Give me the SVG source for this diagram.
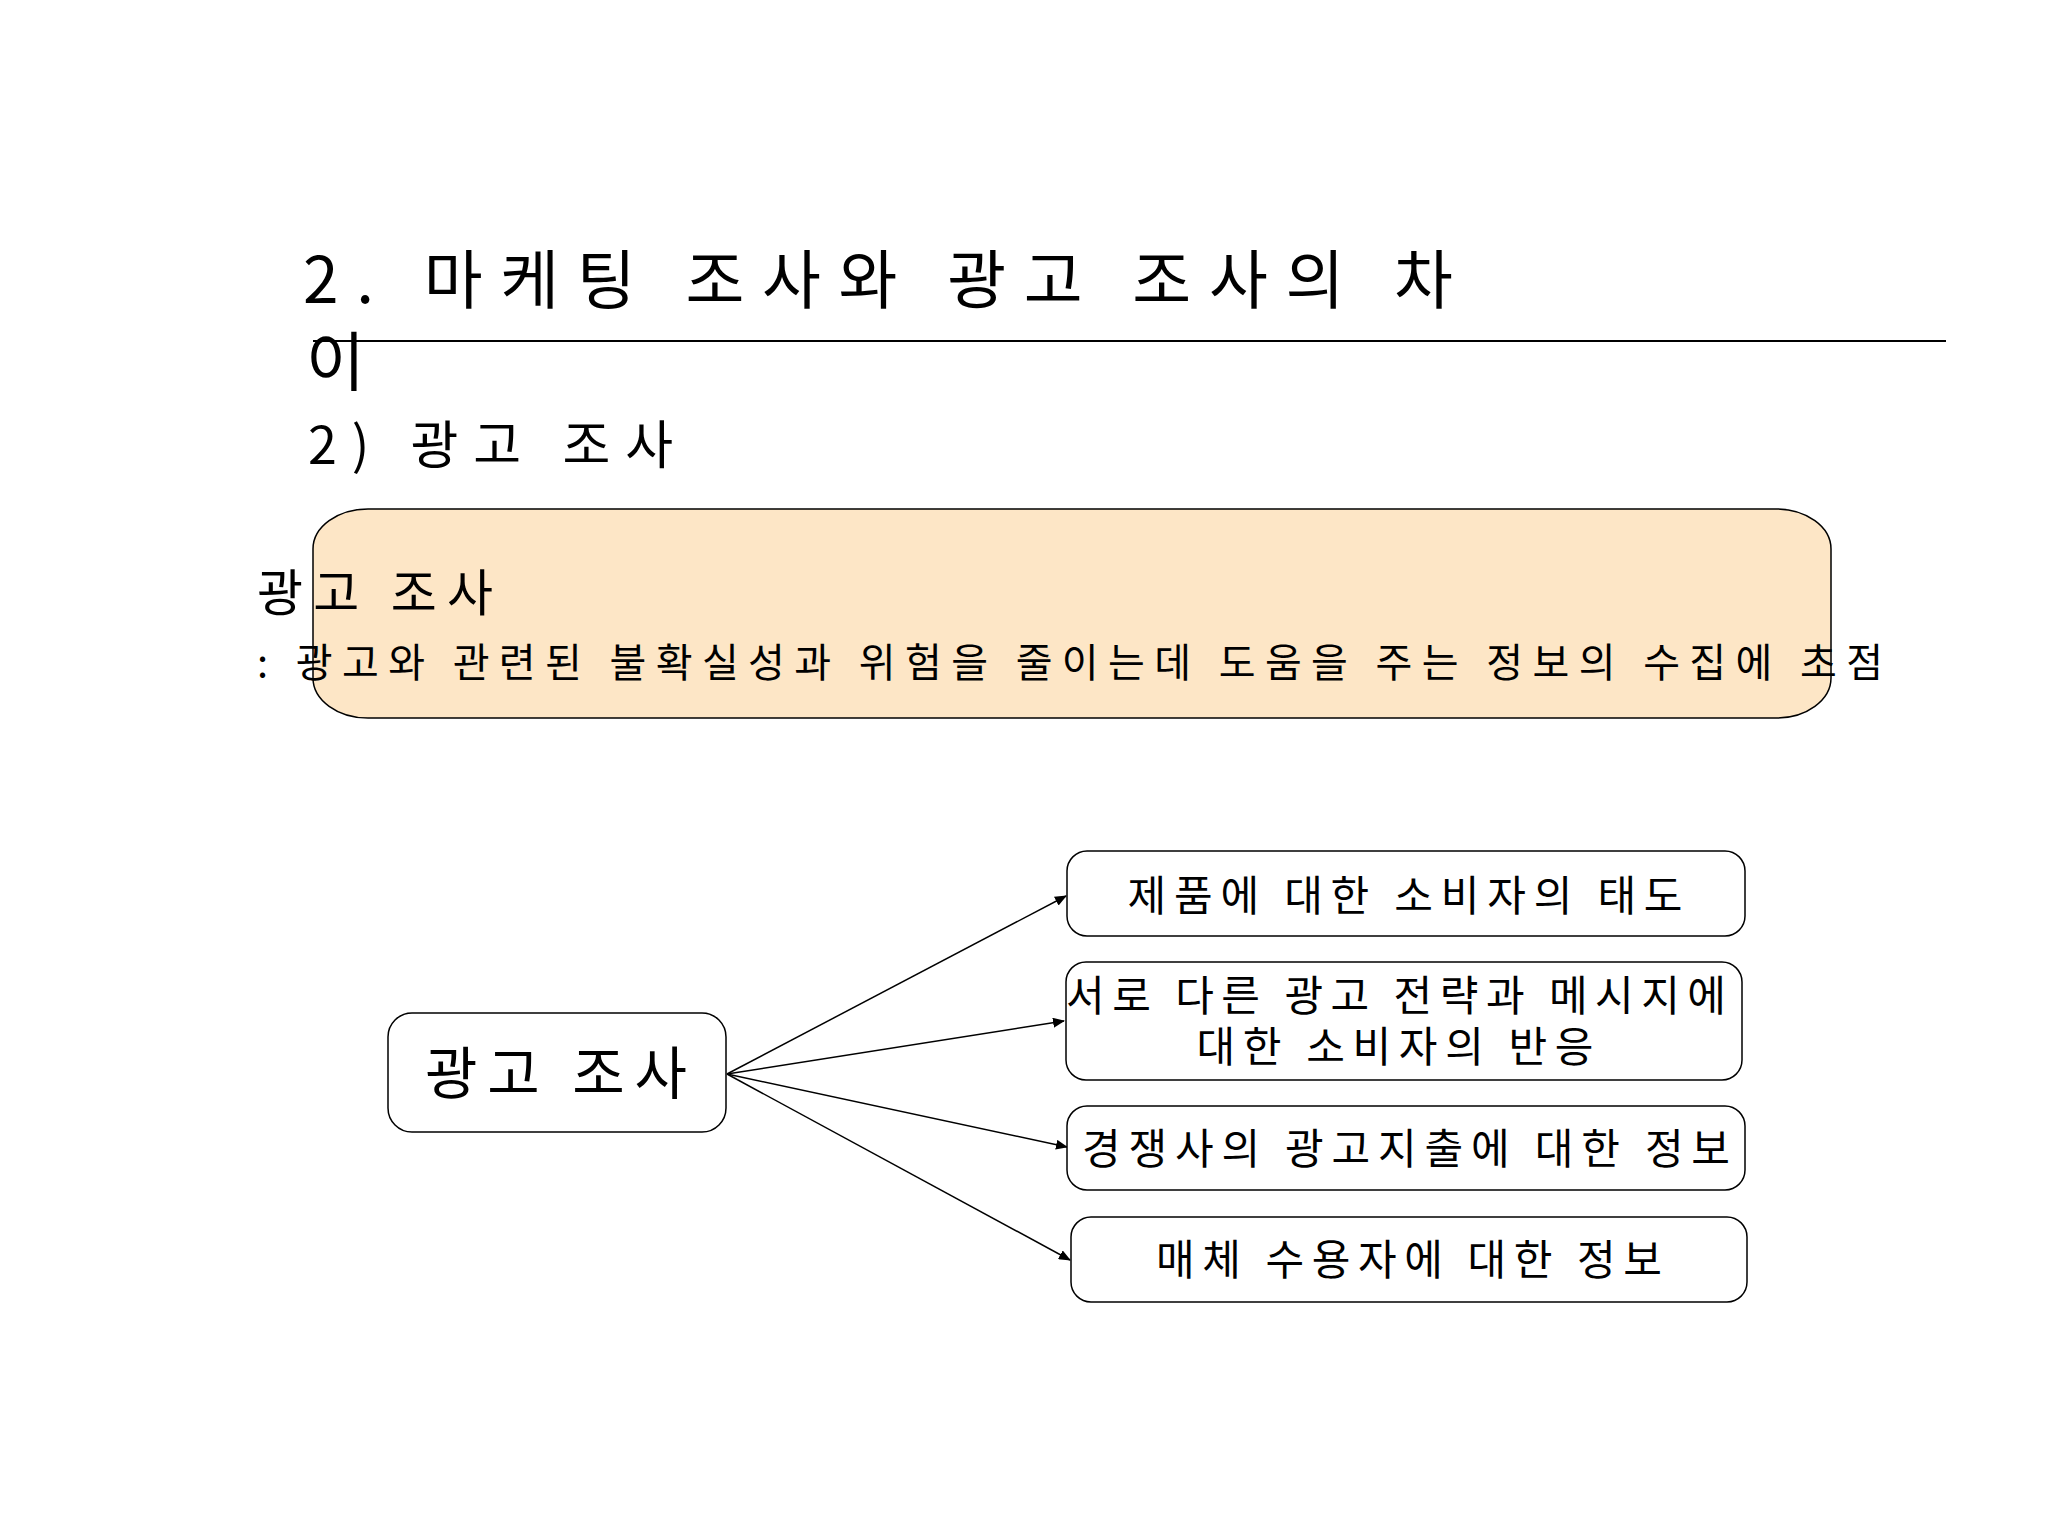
<svg xmlns="http://www.w3.org/2000/svg" width="2048" height="1536" viewBox="0 0 2048 1536">
<style>
text{font-family:"Noto Sans CJK KR","Noto Sans",sans-serif;fill:#000}
.box{fill:#fff;stroke:#000;stroke-width:1.5}
.c{stroke:#000;stroke-width:1.5;fill:none;marker-end:url(#ah)}
.n{font-size:42px;text-anchor:middle}
</style>
<defs><marker id="ah" markerWidth="12" markerHeight="10" refX="11" refY="5" orient="auto" markerUnits="userSpaceOnUse"><path d="M0,0L12,5L0,10z" fill="#000"/></marker></defs>
<rect width="2048" height="1536" fill="#fff"/>
<g id="title">
<text x="303" y="303" font-size="64" textLength="1150" lengthAdjust="spacing">2. 마케팅 조사와 광고 조사의 차</text>
<text x="306" y="385" font-size="64">이</text>
<line x1="313" y1="341" x2="1946" y2="341" stroke="#000" stroke-width="2"/>
<text x="308" y="464" font-size="52" textLength="365" lengthAdjust="spacing">2) 광고 조사</text>
</g>
<g id="definition">
<rect x="313" y="509" width="1518" height="209" rx="55" ry="40" fill="#FDE6C6" stroke="#000" stroke-width="1.5"/>
<text x="257" y="611" font-size="50" textLength="236" lengthAdjust="spacing">광고 조사</text>
<text x="257" y="677" font-size="40" textLength="1626" lengthAdjust="spacing">: 광고와 관련된 불확실성과 위험을 줄이는데 도움을 주는 정보의 수집에 초점</text>
</g>
<g id="connectors">
<line class="c" x1="727" y1="1074" x2="1066" y2="896"/>
<line class="c" x1="727" y1="1074" x2="1064" y2="1021"/>
<line class="c" x1="727" y1="1074" x2="1067" y2="1147"/>
<line class="c" x1="727" y1="1074" x2="1070" y2="1260"/>
</g>
<g id="root"><rect class="box" x="388" y="1013" width="338" height="119" rx="24"/>
<text x="556" y="1094" font-size="57" text-anchor="middle" textLength="262" lengthAdjust="spacing">광고 조사</text></g>
<g id="n1"><rect class="box" x="1067" y="851" width="678" height="85" rx="20"/>
<text class="n" x="1405" y="911" textLength="555" lengthAdjust="spacing">제품에 대한 소비자의 태도</text></g>
<g id="n2"><rect class="box" x="1066" y="962" width="676" height="118" rx="20"/>
<text class="n" x="1396" y="1011" textLength="660" lengthAdjust="spacing">서로 다른 광고 전략과 메시지에</text>
<text class="n" x="1395" y="1062" textLength="397" lengthAdjust="spacing">대한 소비자의 반응</text></g>
<g id="n3"><rect class="box" x="1067" y="1106" width="678" height="84" rx="20"/>
<text class="n" x="1406" y="1164" textLength="648" lengthAdjust="spacing">경쟁사의 광고지출에 대한 정보</text></g>
<g id="n4"><rect class="box" x="1071" y="1217" width="676" height="85" rx="20"/>
<text class="n" x="1409" y="1275" textLength="506" lengthAdjust="spacing">매체 수용자에 대한 정보</text></g>
</svg>
